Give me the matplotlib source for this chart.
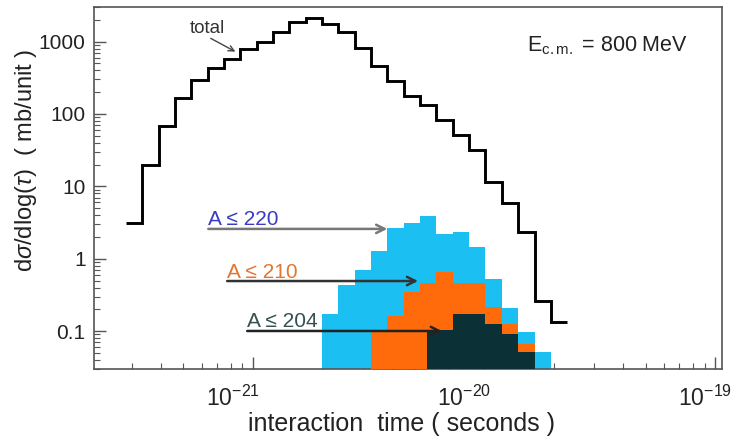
import numpy as np
import matplotlib
matplotlib.use("Agg")
import matplotlib.pyplot as plt
import matplotlib.transforms as mtransforms
from matplotlib.ticker import LogLocator, FuncFormatter, NullFormatter, FixedLocator

plt.rcParams['font.family'] = ['Liberation Sans', 'DejaVu Sans']
plt.rcParams['mathtext.fontset'] = 'custom'
plt.rcParams['mathtext.rm'] = 'Liberation Sans'
plt.rcParams['mathtext.it'] = 'Liberation Sans:italic'

# bin edges, log10(interaction time / s)
edges_log = [-21.550, -21.479, -21.409, -21.338, -21.267, -21.197, -21.126,
             -21.055, -20.984, -20.914, -20.843, -20.772, -20.702, -20.631,
             -20.560, -20.490, -20.419, -20.348, -20.277, -20.207, -20.136,
             -20.065, -19.995, -19.924, -19.853, -19.782, -19.712, -19.641]

# d sigma / dlog(tau) in mb/unit
total = [3.1, 20, 69, 167, 296, 434, 577, 793, 990, 1360, 1840, 2120, 1755,
         1360, 819, 462, 287, 178, 134, 83, 51.6, 32, 11.6, 5.96, 2.37,
         0.265, 0.132]

a220_first = 12
a220 = [0.170, 0.44, 0.71, 1.26, 2.69, 3.16, 3.94, 2.23, 2.37, 1.43, 0.52,
        0.212, 0.096, 0.051]

a210_first = 15
a210 = [0.096, 0.164, 0.342, 0.456, 0.65, 0.46, 0.46, 0.218, 0.124, 0.066]

a204_edges_log = [-20.247, -20.136, -20.065, -19.995, -19.924, -19.853, -19.782]
a204 = [0.105, 0.170, 0.170, 0.124, 0.090, 0.052]

xticks = [1e-21, 1e-20, 1e-19]

edges = 10 ** np.array(edges_log)

fig = plt.figure(figsize=(7.39, 4.37), dpi=100)
ax = fig.add_axes([94/739, 68/437, 628/739, 362/437])

base = 1e-3
e220 = edges[a220_first:a220_first + len(a220) + 1]
ax.stairs(a220, e220, fill=True, baseline=base, color='#1cbff2', zorder=2)
e210 = edges[a210_first:a210_first + len(a210) + 1]
ax.stairs(a210, e210, fill=True, baseline=base, color='#ff6a0a', zorder=3)
ax.stairs(a204, 10 ** np.array(a204_edges_log), fill=True, baseline=base,
          color='#0b3035', zorder=4)
ax.stairs(total, edges, baseline=None, color='black', lw=2.1, zorder=5)

ax.set_xscale('log')
ax.set_yscale('log')
ax.set_xlim(2.05e-22, 1.07e-19)
ax.set_ylim(0.03, 3000)

ax.yaxis.set_major_locator(LogLocator(base=10, numticks=20))
ax.yaxis.set_minor_locator(LogLocator(base=10, subs=np.arange(2, 10), numticks=20))
ax.yaxis.set_major_formatter(FuncFormatter(lambda v, p: '%g' % v))
ax.yaxis.set_minor_formatter(NullFormatter())
ax.xaxis.set_major_locator(FixedLocator(xticks))
ax.xaxis.set_minor_locator(LogLocator(base=10, subs=np.arange(2, 10), numticks=20))
ax.xaxis.set_minor_formatter(NullFormatter())

ax.tick_params(which='both', direction='in', top=False, right=False,
               color='#555555', labelcolor='#222222')
ax.tick_params(which='major', length=8.5, width=1.0)
ax.tick_params(which='minor', length=4.5, width=0.8)
ax.tick_params(axis='y', pad=6, labelsize=15)
ax.tick_params(axis='x', pad=12, labelsize=16.5)
for s in ax.spines.values():
    s.set_color('#555555')
    s.set_linewidth(1.2)

# x tick labels sit a bit to the left of their ticks
for tick, dx in zip(ax.xaxis.get_major_ticks(), [-20, -20, -10]):
    off = mtransforms.ScaledTranslation(dx / 100, 0, fig.dpi_scale_trans)
    tick.label1.set_transform(tick.label1.get_transform() + off)

ax.set_xlabel('interaction  time ( seconds )', fontsize=18, color='#222222')
ax.xaxis.set_label_coords(0.49, -0.118)
ax.set_ylabel(r'd$\sigma$/dlog($\tau$)  ( mb/unit )', fontsize=17, color='#222222')
ax.yaxis.set_label_coords(-0.088, 0.577)

ax.text(0.689, 0.876, r'E$_{\rm c.m.}$ = 800 MeV', transform=ax.transAxes,
        fontsize=15.5, color='#222222', va='baseline')

ax.text(0.153, 0.928, 'total', transform=ax.transAxes, fontsize=13.5,
        color='#333333', va='baseline')
ax.annotate('', xy=(0.229, 0.873), xytext=(0.182, 0.917),
            xycoords='axes fraction', textcoords='axes fraction',
            arrowprops=dict(arrowstyle='->', color='#444444', lw=1.0), zorder=6)

labels = [('A \u2264 220', '#3b3bc4', '#777777', 0.182, 0.398, 0.467, 0.387),
          ('A \u2264 210', '#e4752e', '#333333', 0.212, 0.251, 0.516, 0.243),
          ('A \u2264 204', '#345050', '#222222', 0.244, 0.116, 0.554, 0.105)]
for txt, tc, lc, x0, ty, x1, ay in labels:
    ax.text(x0, ty, txt, transform=ax.transAxes, fontsize=15, color=tc,
            va='baseline', zorder=7)
    ax.annotate('', xy=(x1, ay), xytext=(x0, ay),
                xycoords='axes fraction', textcoords='axes fraction',
                arrowprops=dict(arrowstyle='->,head_length=0.6,head_width=0.3',
                                color=lc, lw=1.8, shrinkA=0, shrinkB=0),
                zorder=7)

fig.savefig('out.png', dpi=100)
